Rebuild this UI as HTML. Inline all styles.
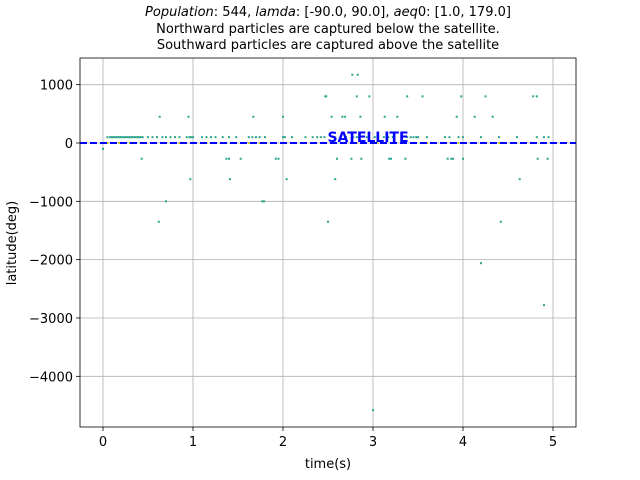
<!DOCTYPE html>
<html><head><meta charset="utf-8"><style>
body{margin:0;background:#fff;}
svg{display:block;font-family:"DejaVu Sans","Liberation Sans",sans-serif;}
</style></head><body>
<svg id="chart" width="640" height="480">
<g id="grid"></g>
<g id="pts"></g>
<g id="axes"></g>
<text x="328" y="16" text-anchor="middle" font-size="13"><tspan font-style="italic">Population</tspan>: 544, <tspan font-style="italic">lamda</tspan>: [-90.0, 90.0], <tspan font-style="italic">aeq</tspan>0: [1.0, 179.0]</text>
<text x="328" y="33" text-anchor="middle" font-size="13">Northward particles are captured below the satellite.</text>
<text x="328" y="49" text-anchor="middle" font-size="13">Southward particles are captured above the satellite</text>
<text x="328" y="468" text-anchor="middle" font-size="13">time(s)</text>
<text transform="translate(16,243) rotate(-90)" text-anchor="middle" font-size="13">latitude(deg)</text>
</svg>
<script>
const xTicks=[0,1,2,3,4,5];
const yTicks=[1000,0,-1000,-2000,-3000,-4000];
const row100=[0.05,0.08,0.1,0.12,0.14,0.16,0.18,0.2,0.22,0.24,0.26,0.28,0.3,0.32,0.34,0.36,0.38,0.4,0.42,0.44,0.5,0.55,0.6,0.66,0.7,0.75,0.8,0.85,0.93,0.96,0.98,1.0,1.1,1.15,1.2,1.25,1.33,1.4,1.48,1.62,1.66,1.7,1.74,1.8,2.0,2.02,2.1,2.25,2.33,2.38,2.42,2.46,2.7,2.78,2.82,2.93,3.02,3.05,3.12,3.17,3.22,3.38,3.42,3.45,3.48,3.5,3.6,3.8,3.85,3.95,4.0,4.2,4.4,4.6,4.82,4.9,4.95];
const tOther=[0,0.63,0.95,1.67,2.0,2.47,2.48,0.43,1.37,1.4,1.53,1.92,1.95,0.97,1.41,2.04,0.7,1.77,1.79,2.77,2.83,2.82,2.96,3.38,3.55,3.98,4.25,4.78,4.82,2.54,2.66,2.69,2.86,3.13,3.27,3.93,4.13,4.33,2.6,2.76,2.87,3.18,3.2,3.36,3.83,3.87,3.89,4.0,4.83,4.94,2.58,4.63,0.62,2.5,4.42,4.2,4.9,3.0];
const latOther=[-100,450,450,450,450,800,800,-270,-270,-270,-270,-270,-270,-620,-620,-620,-1000,-1000,-1000,1170,1170,800,800,800,800,800,800,800,800,450,450,450,450,450,450,450,450,450,-270,-270,-270,-270,-270,-270,-270,-270,-270,-270,-270,-270,-620,-620,-1350,-1350,-1350,-2060,-2780,-4580];
const X=t=>103+t*90, Y=v=>143-v*0.05833;
const NS="http://www.w3.org/2000/svg";
function mk(tag,p,a){const e=document.createElementNS(NS,tag);for(const k in a)e.setAttribute(k,a[k]);p.appendChild(e);return e;}
const grid=document.getElementById('grid'),axes=document.getElementById('axes'),pts=document.getElementById('pts');
const L=80,R=576,T=58,B=427;
xTicks.forEach(t=>{
 const g=mk('line',grid,{x1:X(t),x2:X(t),y1:T,y2:B,stroke:'#b0b0b0','stroke-width':0.8});
 
 mk('line',axes,{x1:X(t),x2:X(t),y1:B,y2:B+4,stroke:'#000','stroke-width':0.8});
 const tx=mk('text',axes,{x:X(t),y:B+19,'text-anchor':'middle','font-size':13});tx.textContent=t;
 
});
yTicks.forEach(v=>{
 const g=mk('line',grid,{x1:L,x2:R,y1:Y(v),y2:Y(v),stroke:'#b0b0b0','stroke-width':0.8});
 
 mk('line',axes,{x1:L-4,x2:L,y1:Y(v),y2:Y(v),stroke:'#000','stroke-width':0.8});
 const tx=mk('text',axes,{x:L-7,y:Y(v)+5,'text-anchor':'end','font-size':13});tx.textContent=v===0?'0':(v<0?'\u2212'+(-v):v);
 
});
function dot(t,v,c){const d=mk('rect',pts,{x:X(t)-1,y:Y(v)-1,width:2,height:2,fill:c});
 }
row100.forEach(t=>dot(t,100,'#2ca58d'));
tOther.forEach((t,i)=>dot(t,latOther[i],'#2ca58d'));
for(let i=0;i<row100.length;i+=3)dot(row100[i],0,'#c8c020');
const sl=mk('line',pts,{x1:L,x2:R,y1:Y(0),y2:Y(0),stroke:'#0000ff','stroke-width':2,'stroke-dasharray':'7,3'});

const st=mk('text',pts,{x:368,y:Y(0)-1,'text-anchor':'middle','font-size':14,'font-weight':'bold',fill:'#0000ff'});st.textContent='SATELLITE';

const fr=mk('rect',axes,{x:L,y:T,width:R-L,height:B-T,fill:'none',stroke:'#000','stroke-width':0.8});

</script>
</body></html>
